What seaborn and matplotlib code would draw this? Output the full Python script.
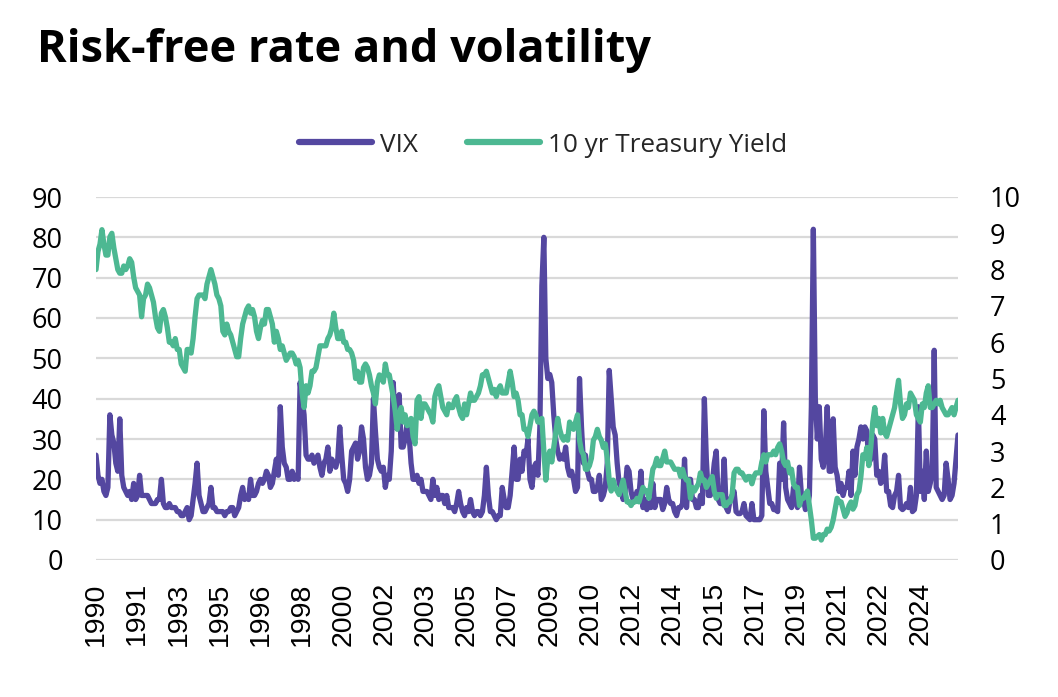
"""
Risk-free rate and volatility: VIX (left axis) against the
10 yr Treasury yield (right axis), monthly, 1990 - 2026.
"""

import numpy as np
import pandas as pd
import seaborn as sns
import matplotlib.pyplot as plt
from matplotlib.lines import Line2D


TITLE = "Risk-free rate and volatility"
VIX_LABEL = "VIX"
YIELD_LABEL = "10 yr Treasury Yield"
VIX_COLOR = "#5447a0"
YIELD_COLOR = "#4db892"
GRID_COLOR = "#d9d9d9"

# x axis labels (excel shows one every ~1.73 years)
YEAR_LABELS = ["1990", "1991", "1993", "1995", "1996", "1998", "2000",
               "2002", "2003", "2005", "2007", "2009", "2010", "2012",
               "2014", "2015", "2017", "2019", "2021", "2022", "2024"]
LABEL_STEP = 1.733  # years between two labels

# monthly VIX, Jan 1990 - Apr 2026
VIX = [
    26, 21, 19, 20, 17, 16, 18, 36, 31, 29, 24, 22,          # 1990
    35, 21, 18, 17, 16, 17, 15, 19, 15, 16, 21, 16,          # 1991
    16, 16, 16, 15, 14, 14, 14, 15, 15, 20, 14, 13,          # 1992
    13, 14, 13, 13, 13, 12, 12, 11, 11, 12, 13, 10,          # 1993
    11, 15, 19, 24, 16, 14, 12, 12, 13, 14, 18, 13,          # 1994
    13, 12, 12, 12, 12, 11, 12, 12, 13, 13, 11, 12,          # 1995
    13, 16, 18, 15, 16, 15, 20, 16, 16, 17, 19, 20,          # 1996
    19, 20, 22, 21, 18, 19, 22, 25, 21, 38, 28, 24,          # 1997
    23, 20, 20, 22, 20, 21, 20, 44, 40, 36, 26, 25,          # 1998
    25, 26, 24, 25, 26, 23, 21, 24, 25, 28, 22, 25,          # 1999
    24, 23, 25, 33, 26, 20, 19, 17, 20, 27, 28, 29,          # 2000
    25, 27, 33, 30, 23, 20, 21, 24, 40, 32, 25, 23,          # 2001
    22, 23, 18, 21, 20, 27, 44, 33, 38, 41, 28, 28,          # 2002
    30, 34, 31, 24, 20, 20, 21, 19, 20, 17, 17, 17,          # 2003
    16, 15, 20, 16, 18, 15, 16, 16, 14, 16, 13, 13,          # 2004
    13, 12, 14, 17, 14, 12, 11, 13, 12, 15, 12, 11,          # 2005
    12, 12, 11, 12, 16, 23, 16, 12, 12, 11, 10, 11,          # 2006
    11, 18, 15, 13, 13, 16, 22, 28, 20, 20, 25, 22,          # 2007
    27, 26, 30, 20, 18, 23, 24, 21, 33, 68, 80, 50,          # 2008
    45, 46, 44, 36, 30, 27, 25, 26, 25, 28, 23, 21,          # 2009
    22, 20, 17, 18, 45, 33, 24, 26, 22, 20, 20, 17,          # 2010
    17, 18, 21, 15, 16, 18, 24, 47, 40, 33, 31, 24,          # 2011
    19, 18, 15, 17, 23, 22, 17, 15, 15, 17, 16, 22,          # 2012
    13, 15, 12.5, 14, 13, 19, 13, 15, 15, 15, 12.5, 14,      # 2013
    18, 15, 14, 14, 12, 11, 13, 13, 14, 25, 13, 20,          # 2014
    20, 15, 15, 13, 13, 16, 14, 40, 25, 16, 16, 19,          # 2015
    24, 27, 15, 14, 14, 25, 13, 12, 15, 16, 17, 12,          # 2016
    11.5, 11.5, 12, 14, 11, 10.5, 10, 14, 10, 10, 10, 10,    # 2017
    11, 37, 22, 18, 14, 14, 12.5, 12.5, 12, 24, 20, 34,      # 2018
    18, 15, 14, 13, 18, 15, 13, 23, 16, 15, 12.5, 13,        # 2019
    16, 38, 82, 40, 30, 38, 25, 23, 27, 38, 22, 22,          # 2020
    35, 23, 21, 17, 19, 16, 18, 18, 22, 16, 27, 21,          # 2021
    28, 30, 33, 30, 33, 32, 24, 25, 31, 30, 21, 22,          # 2022
    19, 20, 26, 17, 17, 13.5, 13, 16, 17, 21, 13, 12.5,      # 2023
    13, 14, 13, 18, 12, 12.5, 16, 38, 17, 22, 15, 27,        # 2024
    17, 19, 22, 52, 18, 17, 16, 15, 16, 24, 20, 15,          # 2025
    16, 19, 25, 31,                                          # 2026
]

# monthly 10 yr treasury yield (%), same months
YIELD = [
    8.0, 8.5, 8.7, 9.1, 8.7, 8.4, 8.4, 8.9, 9.0, 8.6, 8.3, 8.0,   # 1990
    7.9, 7.9, 8.1, 8.0, 8.1, 8.3, 8.2, 7.8, 7.5, 7.4, 7.3, 6.7,   # 1991
    7.2, 7.3, 7.6, 7.5, 7.3, 7.1, 6.7, 6.4, 6.3, 6.8, 6.9, 6.7,   # 1992
    6.4, 6.0, 6.0, 5.9, 6.1, 5.8, 5.8, 5.4, 5.3, 5.2, 5.8, 5.8,   # 1993
    5.7, 6.1, 6.7, 7.2, 7.3, 7.3, 7.3, 7.2, 7.6, 7.8, 8.0, 7.8,   # 1994
    7.6, 7.3, 7.2, 7.0, 6.3, 6.2, 6.5, 6.3, 6.2, 6.0, 5.8, 5.6,   # 1995
    5.6, 6.1, 6.5, 6.7, 6.9, 7.0, 6.8, 6.9, 6.7, 6.3, 6.1, 6.4,   # 1996
    6.6, 6.5, 6.9, 6.9, 6.7, 6.5, 6.0, 6.3, 6.1, 5.8, 5.9, 5.7,   # 1997
    5.5, 5.6, 5.7, 5.7, 5.6, 5.4, 5.5, 5.3, 4.6, 4.2, 4.8, 4.6,   # 1998
    4.8, 5.2, 5.2, 5.3, 5.6, 5.9, 5.9, 5.9, 5.9, 6.1, 6.2, 6.4,   # 1999
    6.8, 6.4, 6.1, 6.1, 6.3, 6.0, 6.0, 5.8, 5.8, 5.7, 5.5, 5.0,   # 2000
    5.2, 4.9, 4.9, 5.3, 5.4, 5.3, 5.1, 4.8, 4.6, 4.3, 4.9, 5.1,   # 2001
    5.0, 4.9, 5.4, 5.1, 5.1, 4.8, 4.5, 4.1, 3.6, 4.0, 4.2, 3.8,   # 2002
    4.0, 3.7, 3.8, 3.9, 3.4, 3.2, 4.4, 4.5, 3.9, 4.3, 4.3, 4.2,   # 2003
    4.1, 4.0, 3.8, 4.5, 4.7, 4.8, 4.5, 4.2, 4.1, 4.0, 4.3, 4.2,   # 2004
    4.2, 4.4, 4.5, 4.2, 4.0, 3.9, 4.3, 4.0, 4.3, 4.6, 4.4, 4.4,   # 2005
    4.5, 4.6, 4.8, 5.1, 5.1, 5.2, 5.0, 4.8, 4.6, 4.7, 4.5, 4.7,   # 2006
    4.8, 4.6, 4.6, 4.6, 4.9, 5.2, 4.9, 4.5, 4.6, 4.4, 4.0, 4.0,   # 2007
    3.6, 3.6, 3.4, 3.7, 4.0, 4.1, 4.0, 3.8, 3.8, 3.9, 3.0, 2.2,   # 2008
    2.8, 3.0, 2.7, 3.1, 3.5, 3.9, 3.6, 3.4, 3.3, 3.4, 3.3, 3.8,   # 2009
    3.7, 3.6, 3.8, 4.0, 3.3, 3.0, 2.9, 2.5, 2.5, 2.6, 2.8, 3.3,   # 2010
    3.4, 3.6, 3.4, 3.3, 3.1, 3.2, 2.8, 2.2, 1.9, 2.2, 2.0, 1.9,   # 2011
    1.8, 2.0, 2.2, 1.9, 1.6, 1.6, 1.5, 1.6, 1.6, 1.7, 1.6, 1.8,   # 2012
    2.0, 1.9, 1.9, 1.7, 2.1, 2.5, 2.6, 2.8, 2.6, 2.6, 2.8, 3.0,   # 2013
    2.7, 2.7, 2.7, 2.6, 2.5, 2.5, 2.5, 2.3, 2.5, 2.3, 2.2, 2.2,   # 2014
    1.7, 2.0, 1.9, 2.0, 2.1, 2.4, 2.2, 2.2, 2.0, 2.1, 2.2, 2.3,   # 2015
    1.9, 1.7, 1.8, 1.8, 1.8, 1.5, 1.5, 1.6, 1.6, 1.8, 2.4, 2.5,   # 2016
    2.5, 2.4, 2.4, 2.3, 2.2, 2.3, 2.3, 2.1, 2.3, 2.4, 2.4, 2.4,   # 2017
    2.7, 2.9, 2.7, 2.9, 2.9, 2.9, 3.0, 2.9, 3.1, 3.2, 3.0, 2.7,   # 2018
    2.6, 2.7, 2.4, 2.5, 2.1, 2.0, 2.0, 1.5, 1.7, 1.7, 1.8, 1.9,   # 2019
    1.5, 1.1, 0.6, 0.6, 0.65, 0.7, 0.55, 0.7, 0.7, 0.85, 0.8, 0.9,  # 2020
    1.1, 1.4, 1.7, 1.6, 1.6, 1.4, 1.2, 1.3, 1.5, 1.6, 1.4, 1.5,   # 2021
    1.8, 1.9, 2.3, 2.9, 2.8, 3.1, 2.6, 3.1, 3.8, 4.2, 3.7, 3.9,   # 2022
    3.5, 3.9, 3.5, 3.4, 3.6, 3.8, 4.0, 4.2, 4.6, 4.95, 4.3, 3.9,  # 2023
    4.0, 4.3, 4.2, 4.6, 4.5, 4.4, 4.0, 3.9, 3.8, 4.3, 4.2, 4.6,   # 2024
    4.8, 4.2, 4.2, 4.3, 4.4, 4.3, 4.4, 4.2, 4.1, 4.0, 4.0, 4.1,   # 2025
    4.2, 4.0, 4.2, 4.4,                                         # 2026
]


if __name__ == "__main__":
    sns.set_theme(style="white")
    plt.rcParams["font.family"] = ["Open Sans", "DejaVu Sans"]

    months = pd.date_range("1990-01-01", periods=len(VIX), freq="MS")
    df = pd.DataFrame({
        "year": months.year + (months.month - 1) / 12,
        "vix": VIX,
        "yield": YIELD,
    })

    fig = plt.figure(figsize=(10.58, 6.97), dpi=100)
    ax = fig.add_axes([96 / 1058, 1 - 560 / 697, 862 / 1058, 363 / 697])
    ax2 = ax.twinx()

    sns.lineplot(data=df, x="year", y="vix", ax=ax, color=VIX_COLOR,
                 linewidth=3.8, solid_joinstyle="round", solid_capstyle="round")
    sns.lineplot(data=df, x="year", y="yield", ax=ax2, color=YIELD_COLOR,
                 linewidth=3.8, solid_joinstyle="round", solid_capstyle="round")

    # left axis 0-90, right axis 0-10
    ax.set_ylim(0, 90)
    ax.set_yticks(range(0, 91, 10))
    ax2.set_ylim(0, 10)
    ax2.set_yticks(range(0, 11))
    ax.set_xlim(df["year"].iloc[0], df["year"].iloc[-1])

    ticks = 1990 + LABEL_STEP * np.arange(len(YEAR_LABELS))
    ax.set_xticks(ticks)
    ax.set_xticklabels(YEAR_LABELS, rotation=90, fontfamily="Liberation Sans",
                       fontsize=20.5)

    ax.grid(False)
    ax2.grid(False)
    ax.yaxis.grid(True, color=GRID_COLOR, linewidth=1.6)
    ax.set_axisbelow(True)
    for a in (ax, ax2):
        for s in a.spines.values():
            s.set_visible(False)
        a.set_xlabel("")
        a.set_ylabel("")
    ax.tick_params(axis="y", length=0, pad=24, labelsize=19.5, labelcolor="black")
    ax2.tick_params(axis="y", length=0, pad=23, labelsize=19.5, labelcolor="black")
    ax.tick_params(axis="x", length=0, pad=16, labelcolor="black")

    fig.text(37 / 1058, 1 - 62 / 697, TITLE, fontsize=32.5, fontweight="bold",
             ha="left", va="baseline", color="black")

    handles = [Line2D([], [], color=VIX_COLOR, linewidth=4.5, solid_capstyle="round"),
               Line2D([], [], color=YIELD_COLOR, linewidth=4.5, solid_capstyle="round")]
    fig.legend(handles, [VIX_LABEL, YIELD_LABEL], loc="center",
               bbox_to_anchor=(543 / 1058, 1 - 145 / 697), ncol=2, frameon=False,
               fontsize=18.8, handlelength=2.8, handletextpad=0.3,
               columnspacing=1.9)

    fig.savefig("out.png", dpi=100, facecolor="white")
